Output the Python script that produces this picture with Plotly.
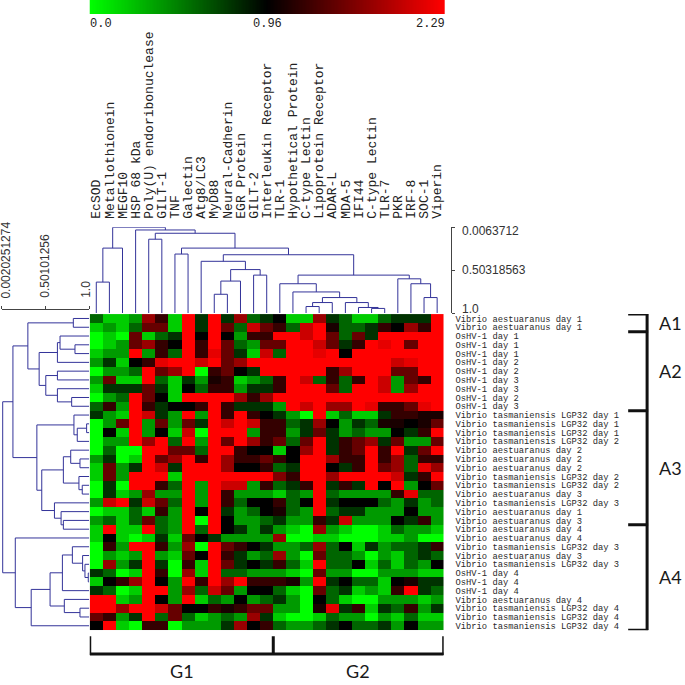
import numpy as np
import plotly.graph_objects as go

W = H = 685
MONO = "Liberation Mono"
SANS = "Liberation Sans"
DEND = "#333399"

genes = ["EcSOD", "Metallothionein", "MEGF10", "HSP 68 kDa", "Poly(U) endoribonuclease", "GILT-1", "TNF",
         "Galectin", "Atg8/LC3", "MyD88", "Neural-Cadherin", "EGR Protein", "GILT-2", "Interleukin Receptor",
         "TLR-1", "Hypothetical Protein", "C-type Lectin", "Lipoprotein Receptor", "ADAR-L", "MDA-5", "IFI44",
         "C-type Lectin", "TLR-7", "PKR", "IRF-8", "SOC-1", "Viperin"]

VA = "Vibrio aestuaranus day "
VT = "Vibrio tasmaniensis LGP32 day "
OS = "OsHV-1 day "
samples = [VA+"1", VA+"1", OS+"1", OS+"1", OS+"1", OS+"2", OS+"2", OS+"3", OS+"3", OS+"2", OS+"3",
           VT+"1", VT+"1", VT+"1", VT+"2", VA+"2", VA+"2", VA+"2", VT+"2", VT+"2", VA+"3", VT+"3",
           VA+"1", VA+"3", VA+"4", VA+"4", VT+"3", VA+"3", VT+"3", OS+"4", OS+"4", OS+"4", VA+"4",
           VT+"4", VT+"4", VT+"4"]

r01 = [.58,.19,.19,.38,1.76,1.23,.19,2.29,.77,2.29,.77,1.76,.58,.77,.96,.19,.19,1.76,.77,.58,.19,.19,.58,.77,.77,.77,2.29]
r02 = [.19,.38,.19,.58,1.49,1.49,.19,2.29,.77,2.29,1.49,.58,2.02,1.49,1.23,.58,2.02,2.29,1.09,.58,.58,.77,1.23,.96,1.76,1.23,2.29]
r03 = [0,.19,0,1.49,.19,.58,.77,2.29,.96,2.29,.96,.38,1.23,1.23,2.29,2.29,2.02,2.29,1.49,.58,1.49,.77,2.29,2.29,2.29,2.29,2.29]
r04 = [0,.19,.38,1.49,1.76,1.23,.96,2.29,1.23,2.29,1.49,.58,.38,1.49,1.49,2.29,2.29,2.02,1.49,.77,1.23,2.29,2.16,2.29,1.49,2.29,2.29]
r05 = [.19,.38,.38,2.29,.38,1.23,.58,2.29,1.23,2.16,1.49,.77,.19,2.02,.58,2.29,2.29,2.16,2.29,.96,2.29,2.29,2.29,2.29,2.29,2.29,2.29]
r06 = [.38,.77,.19,.96,1.23,2.16,2.29,2.29,2.02,2.29,1.49,1.76,2.29,2.29,2.29,2.29,2.29,2.29,2.29,2.29,2.29,2.29,2.29,2.02,2.16,2.29,2.29]
r07 = [0,.38,.38,.58,2.29,1.49,1.76,2.29,0,1.23,1.49,.96,.77,2.29,2.29,2.29,2.29,2.29,1.23,1.76,2.29,2.29,2.29,1.49,1.49,2.29,2.29]
r08 = [.38,1.49,.19,.19,2.29,.58,.19,.77,.38,1.09,1.23,.19,.38,.58,1.23,2.29,2.02,.58,1.23,.58,1.23,2.29,2.02,.38,1.49,1.23,2.29]
r09 = [.19,.77,.77,.77,1.49,.77,.19,.96,.58,1.23,1.23,.38,.77,.77,1.23,2.29,2.29,2.29,1.49,.58,2.29,2.29,2.02,.38,1.76,2.29,2.29]
r10 = [0,.38,.58,2.29,1.49,.96,.19,2.29,2.29,2.29,2.29,1.76,1.23,1.76,2.29,2.29,2.29,2.29,2.29,2.29,2.29,2.29,2.29,2.29,2.29,2.29,2.29]
r11 = [.58,1.23,.38,2.29,1.23,.77,.96,.96,1.23,2.29,1.23,.77,.77,.77,.38,2.29,2.02,2.29,1.76,1.76,2.29,2.16,1.23,1.23,1.49,2.16,2.29]
r12 = [.77,.38,.19,2.29,2.02,.77,.38,2.29,.38,2.29,1.23,2.29,1.23,.96,.77,.38,0,2.29,.19,.58,.19,.19,.77,1.23,1.23,1.09,1.09]
r13 = [0,.38,1.49,2.29,.38,1.49,.38,1.49,.77,2.29,2.02,2.29,2.02,1.23,1.23,.58,.77,1.76,.96,.38,.77,.58,1.09,1.09,.96,1.09,1.49]
r14 = [0,.96,.19,2.29,.38,.96,.19,2.02,0,2.29,2.29,2.29,.38,1.23,1.23,.38,.77,1.49,.77,.38,.58,.38,.38,.96,.77,1.23,2.29]
r15 = [0,.38,.38,2.29,1.76,2.29,.58,2.29,.38,2.29,1.49,2.29,1.76,1.23,1.49,.58,1.49,2.29,.77,1.23,1.49,1.76,.77,1.49,.38,.38,1.49]
r16 = [0,.58,0,0,2.29,2.29,1.49,1.49,.58,2.29,2.29,1.23,.96,.96,.19,.96,1.76,2.29,.77,1.23,1.49,2.29,1.23,2.29,.77,1.49,2.29]
r17 = [.38,.77,0,.19,2.29,1.49,1.76,2.29,1.23,2.29,1.76,1.23,1.23,1.49,1.23,.96,2.29,2.29,1.76,1.23,1.23,2.29,1.23,1.76,.58,1.23,1.23]
r18 = [.19,1.49,.38,.77,2.29,2.02,.77,2.29,2.29,2.29,1.76,.96,.96,1.23,.58,.77,2.29,2.29,.96,.77,1.23,2.29,1.49,1.76,.58,2.16,1.76]
r19 = [.19,1.49,.38,2.29,2.29,2.29,.19,2.29,2.29,2.29,2.29,2.29,2.29,2.29,1.63,1.23,2.29,2.29,1.76,2.29,2.29,2.29,2.29,2.02,.77,1.23,2.29]
r20 = [0,.77,0,2.29,2.29,1.23,.58,2.29,.38,2.29,2.02,2.02,.38,1.23,.58,.77,1.23,2.29,.77,1.23,.77,2.29,.96,2.29,.38,.96,1.49]
r21 = [0,.77,.19,.38,1.76,.38,.38,2.29,.38,2.29,1.23,.38,.38,.38,.19,.58,.38,2.29,.58,.38,.38,.38,.38,1.23,2.16,.58,.58]
r22 = [.38,2.02,2.29,.77,2.02,1.49,.58,2.29,.38,2.29,1.23,.58,.96,.96,1.23,.58,.96,2.29,.77,.96,.96,.96,.58,.38,.77,.38,.58]
r23 = [0,.19,.19,.58,.19,1.23,.38,2.29,.96,2.29,.77,.38,.58,.96,1.09,.58,.38,2.29,.58,.77,.77,.38,.38,.38,.96,.38,.38]
r24 = [.38,.58,.19,.58,1.49,.58,.38,2.29,0,2.29,.96,.38,.38,.58,.77,.38,.38,1.23,.77,2.02,.38,.38,.38,.96,.77,1.23,.38]
r25 = [.19,2.29,.19,.19,2.29,.58,.38,2.29,.58,2.29,.96,.77,.38,.77,.38,.19,0,1.76,.38,.19,0,0,.19,.58,.38,.38,.19]
r26 = [.19,.96,.19,0,.19,.77,.19,1.49,.96,.77,.38,.38,.38,.38,1.76,0,0,.19,.19,0,0,0,.19,.19,.38,0,0]
r27 = [0,1.23,.38,2.29,2.29,1.23,.38,1.76,0,2.29,1.49,1.23,.96,.77,.38,.38,.58,1.76,.58,.96,.19,.77,.38,.58,.58,.77,1.23]
r28 = [0,.38,.19,.38,2.29,.38,.19,1.49,.96,2.29,1.23,.77,.38,.58,1.76,.38,0,1.49,.58,.58,.38,0,.38,.19,.58,.77,.58]
r29 = [0,1.76,.38,.77,2.29,.77,0,1.23,.19,2.29,1.49,.77,.96,.77,1.23,.58,.19,2.29,.58,.58,.96,.19,.58,.19,.58,.38,.96]
r30 = [.77,.58,0,.19,2.29,1.23,0,1.76,.19,2.29,.58,.58,.38,.38,.38,.19,0,1.49,.38,.38,0,0,.38,.38,.38,.19,.19]
r31 = [.19,.96,1.23,1.76,2.29,.96,.38,2.29,1.23,2.29,1.76,2.29,1.23,1.23,1.23,1.09,.38,2.29,.77,.96,.58,.58,.19,.96,1.09,.77,.77]
r32 = [.77,.58,0,.19,2.29,2.29,.38,1.76,.58,2.02,1.49,.38,.96,.96,.58,.19,0,1.49,.58,.77,.19,.38,.19,1.23,2.29,.77,.58]
r33 = [2.29,2.29,.19,.38,2.29,.96,.38,2.29,.19,.58,.38,.96,.38,.58,.77,.38,0,.96,.58,.19,0,0,.38,.38,.38,.19,.38]
r34 = [2.29,2.29,1.76,2.29,2.29,2.02,1.49,.96,.96,1.23,1.09,1.23,1.49,1.49,.38,.38,0,1.09,2.16,.77,1.23,.19,.77,.58,1.23,.38,.77]
r35 = [1.49,1.23,.38,.77,2.29,.58,1.49,.58,.19,.38,.58,.38,1.76,.77,.19,0,0,.19,.58,.38,.38,0,.38,.19,.58,.19,.19]
r36 = [.96,2.29,.19,0,1.23,1.23,0,.38,.38,.38,.77,1.76,.96,1.23,.58,.38,.38,.58,.77,.96,.58,.58,.77,.38,.96,.38,.38]
matrix = [r01,r02,r03,r04,r05,r06,r07,r08,r09,r10,r11,r12,r13,r14,r15,r16,r17,r18,
          r19,r20,r21,r22,r23,r24,r25,r26,r27,r28,r29,r30,r31,r32,r33,r34,r35,r36]

# (similarity at the merge, left branch, right branch); a bare integer is a leaf
col_tree = (0.0064,
    (0.247, (0.641, 1, 2), 3),
    (0.037, 4,
        (0.075, (0.144, 5, 6),
            (0.247, (0.316, 7, 8),
                (0.324,
                    (0.400, 9, (0.496, (0.629, (0.782, 10, 11), 12), (0.560, 13, 14))),
                    (0.560,
                        (0.660, 15, (0.755, 16,
                            (0.820, (0.878, (0.924, 17, 18), 19),
                                    (0.878, 20, (0.935, 21, (0.946, 22, 23)))))),
                        (0.603, 24, (0.660, 25, (0.820, 26, 27)))))))))
row_tree = (0.010,
    (0.127,
        (0.298, (0.818, 1, 2),
            (0.427, (0.636, (0.666, 3, (0.837, 4, 5)), 6),
                    (0.503, (0.636, 7, 8), (0.636, 9, (0.799, 10, 11))))),
        (0.401, (0.825, 12, (0.863, (0.970, 13, 14), 15)),
            (0.457, (0.704, (0.788, 16, (0.894, 17, 18)), (0.882, 19, (0.920, 20, 21))),
                    (0.602, 22, (0.678, 23, (0.704, 24, 25)))))),
    (0.154, 26,
        (0.336,
            (0.552, (0.693, (0.807, 27, (0.924, 28, (0.951, 29, (0.989, 30, 31)))), 32),
                    (0.715, 33, (0.894, 34, 35))),
            36)))

color_stops = [0.0, 0.96, 2.29]
stop_labels = ["0.0", "0.96", "2.29"]
col_ticks = [0.0063712, 0.50318563, 1.0]
col_tick_labels = ["0.0063712", "0.50318563", "1.0"]
row_ticks = [0.0020251274, 0.50101256, 1.0]
row_tick_labels = ["0.0020251274", "0.50101256", "1.0"]
row_groups = ["A1", "A2", "A3", "A4"]
row_group_edges = [-0.5, 1.5, 10.5, 23.5, 35.5]
col_groups = ["G1", "G2"]
col_group_edges = [-0.5, 13.5, 26.5]


def segs(node, pos_out, sim_out):
    """Walk a tree and return (leaf-axis position, similarity) of its root."""
    if isinstance(node, int):
        return node - 1, 1.0
    sim, a, b = node
    pa, sa = segs(a, pos_out, sim_out)
    pb, sb = segs(b, pos_out, sim_out)
    pos_out += [pa, pa, pb, pb, None]
    sim_out += [sa, sim, sim, sb, None]
    return (pa + pb) / 2, sim


def hdom(a, b):
    return [a / W, b / W]


def vdom(top, bottom):
    return [(H - bottom) / H, (H - top) / H]


fig = go.Figure()
mid = color_stops[1] / color_stops[2]
scale = [[0, "#00ff00"], [mid, "#000000"], [1, "#ff0000"]]

fig.add_trace(go.Heatmap(z=matrix, x=list(range(27)), y=list(range(36)), colorscale=scale,
                         zmin=color_stops[0], zmax=color_stops[2], showscale=False,
                         hoverinfo="skip", xaxis="x", yaxis="y"))

cx, cy = [], []
segs(col_tree, cx, cy)
fig.add_trace(go.Scatter(x=cx, y=cy, mode="lines", line=dict(color=DEND, width=1), xaxis="x2", yaxis="y2",
                         hoverinfo="skip", showlegend=False))
rx, ry = [], []
segs(row_tree, ry, rx)
fig.add_trace(go.Scatter(x=rx, y=ry, mode="lines", line=dict(color=DEND, width=1), xaxis="x3", yaxis="y3",
                         hoverinfo="skip", showlegend=False))

# colour key: green to black to red with black in the middle of the strip
key = np.linspace(0, 1, 256)
fig.add_trace(go.Heatmap(z=[key], x=key, y=[0],
                         colorscale=[[0, "#00ff00"], [0.5, "#000000"], [1, "#ff0000"]],
                         showscale=False, hoverinfo="skip", xaxis="x4", yaxis="y4"))

tick_font = dict(family=SANS, size=12, color="#333333")
annotations = []
for pos, txt, anchor in zip([0, 0.5, 1], stop_labels, ["left", "center", "right"]):
    annotations.append(dict(x=pos, y=(H - 24) / H, xref="x4", yref="paper", text=txt, showarrow=False,
                            xanchor=anchor, yanchor="middle",
                            font=dict(family=MONO, size=12, color="#222222"),
                            borderpad=0, borderwidth=0))
for val, txt, shift in zip(col_ticks, col_tick_labels, [-4, 0, 4]):
    annotations.append(dict(x=461 / W, y=val, xref="paper", yref="y2", text=txt, showarrow=False,
                            xanchor="left", yanchor="middle", yshift=shift, font=tick_font))
for val, txt, shift in zip(row_ticks, row_tick_labels, [4, 0, -4]):
    annotations.append(dict(x=val, y=(H - 301) / H, xref="x3", yref="paper", text=txt, showarrow=False,
                            textangle=-90, xanchor="center", yanchor="bottom", xshift=shift, font=tick_font))

label_font = dict(family="Lato", size=18, color="#1a1a1a")
for i, name in enumerate(row_groups):
    annotations.append(dict(x=672 / W, y=(row_group_edges[i] + row_group_edges[i + 1]) / 2, xref="paper", yref="y",
                            text=name, showarrow=False, xanchor="center", yanchor="middle", font=label_font))
for i, name in enumerate(col_groups):
    annotations.append(dict(x=(col_group_edges[i] + col_group_edges[i + 1]) / 2, y=(H - 673) / H, xref="x",
                            yref="paper", text=name, showarrow=False, xanchor="center", yanchor="middle",
                            font=label_font))

shapes = []
bline = dict(color="#111111", width=3)
for e in row_group_edges:
    shapes.append(dict(type="line", xref="paper", yref="y", x0=630 / W, x1=650 / W, y0=e, y1=e, line=bline))
shapes.append(dict(type="line", xref="paper", yref="y", x0=649 / W, x1=649 / W,
                   y0=row_group_edges[0], y1=row_group_edges[-1], line=bline))
for e in col_group_edges:
    shapes.append(dict(type="line", xref="x", yref="paper", x0=e, x1=e, y0=(H - 638) / H, y1=(H - 657) / H, line=bline))
shapes.append(dict(type="line", xref="x", yref="paper", x0=col_group_edges[0], x1=col_group_edges[-1],
                   y0=(H - 656) / H, y1=(H - 656) / H, line=bline))

hidden = dict(showgrid=False, zeroline=False, showticklabels=False, ticks="", showline=False)

fig.update_layout(
    width=W, height=H, autosize=False, margin=dict(l=0, r=0, t=0, b=0),
    paper_bgcolor="white", plot_bgcolor="white", showlegend=False,
    annotations=annotations, shapes=shapes,
    xaxis=dict(domain=hdom(90, 445), range=[-0.5, 26.5], anchor="y", **hidden),
    yaxis=dict(domain=vdom(315, 632), range=[35.5, -0.5], anchor="x", side="right", showgrid=False, zeroline=False,
               tickmode="array", tickvals=list(range(36)), ticktext=samples, ticks="outside", ticklen=9,
               tickcolor="rgba(0,0,0,0)", tickfont=dict(family=MONO, size=8.8, color="#2a2a2a")),
    xaxis2=dict(domain=hdom(90, 445), range=[-0.5, 26.5], anchor="y2", side="top", showgrid=False, zeroline=False,
                tickmode="array", tickvals=list(range(27)), ticktext=genes, tickangle=-90, ticks="outside", ticklen=5,
                tickcolor="rgba(0,0,0,0)", tickfont=dict(family=MONO, size=13, color="#222222")),
    yaxis2=dict(domain=vdom(228, 314), range=[1.0, 0.0063712], anchor="free", position=452 / W, side="right",
                showgrid=False, zeroline=False, showline=True, linecolor="#444444", linewidth=1,
                tickmode="array", tickvals=col_ticks, ticktext=["", "", ""], ticks="outside", ticklen=3,
                tickcolor="#444444"),
    xaxis3=dict(domain=hdom(2, 89.5), range=[0.0020251274, 1.0], anchor="free", position=(H - 310) / H, side="top",
                showgrid=False, zeroline=False, showline=True, linecolor="#444444", linewidth=1,
                tickmode="array", tickvals=row_ticks, ticktext=["", "", ""], ticks="outside", ticklen=3,
                tickcolor="#444444"),
    yaxis3=dict(domain=vdom(315, 632), range=[35.5, -0.5], anchor="x3", **hidden),
    xaxis4=dict(domain=hdom(90, 446), range=[0, 1], anchor="y4", **hidden),
    yaxis4=dict(domain=vdom(0, 14), range=[-0.5, 0.5], anchor="x4", **hidden),
)

fig.write_html("out.html", config={"displayModeBar": False}, post_script="document.body.style.margin='0';")
